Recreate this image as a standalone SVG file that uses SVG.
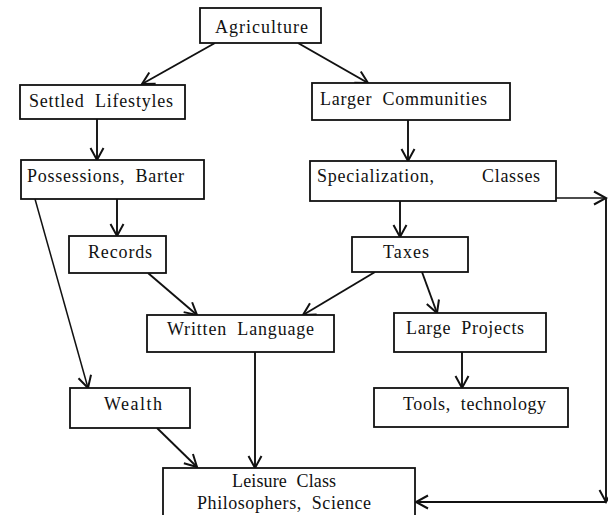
<svg xmlns="http://www.w3.org/2000/svg" width="608" height="515" viewBox="0 0 608 515">
  <style>
    .box { fill: #ffffff; stroke: #111111; stroke-width: 1.8; }
    .lbl { font-family: 'Liberation Serif', 'Times New Roman', serif; font-size: 18px; fill: #111111; letter-spacing: 0.9px; word-spacing: 5px; }
    .edge { fill: none; stroke: #111111; stroke-width: 1.9; marker-end: url(#arrow); }
  </style>
  <defs>
    <marker id="arrow" markerUnits="userSpaceOnUse" markerWidth="16" markerHeight="16" viewBox="-13 -8 16 16" refX="0" refY="0" orient="auto">
      <path d="M-12,-6.5 L0,0 L-12,6.5" fill="none" stroke="#111111" stroke-width="2" stroke-linejoin="miter"/>
    </marker>
  </defs>
  <rect width="608" height="515" fill="#ffffff"/>

  <!-- connectors -->
  <g id="connectors">
    <line class="edge" x1="215" y1="43" x2="142" y2="84"/>
    <line class="edge" x1="298" y1="43" x2="368" y2="83"/>
    <line class="edge" x1="97" y1="119" x2="97" y2="160"/>
    <line class="edge" x1="408" y1="120" x2="408" y2="161"/>
    <line class="edge" x1="117" y1="199" x2="117" y2="236"/>
    <line class="edge" x1="35" y1="199" x2="88" y2="388" style="stroke-width:1.5"/>
    <line class="edge" x1="400" y1="201" x2="400" y2="237"/>
    <line class="edge" x1="148" y1="273" x2="197" y2="315"/>
    <line class="edge" x1="375" y1="272" x2="303" y2="315"/>
    <line class="edge" x1="422" y1="272" x2="437" y2="313"/>
    <line class="edge" x1="255" y1="352" x2="255" y2="468"/>
    <line class="edge" x1="462" y1="352" x2="462" y2="388"/>
    <line class="edge" x1="157" y1="428" x2="197" y2="467"/>
    <!-- loop from Specialization round the right edge to Leisure Class -->
    <line class="edge" x1="556" y1="198" x2="606" y2="198" style="stroke-width:1.5"/>
    <line class="edge" x1="606" y1="198" x2="606" y2="502"/>
    <line class="edge" x1="606" y1="502" x2="416" y2="502"/>
  </g>

  <g id="agriculture">
    <rect class="box" x="200" y="8" width="121" height="35"/>
    <text class="lbl" x="215" y="33" textLength="94">Agriculture</text>
  </g>
  <g id="settled-lifestyles">
    <rect class="box" x="20" y="85" width="165" height="34"/>
    <text class="lbl" x="29" y="107" textLength="145">Settled Lifestyles</text>
  </g>
  <g id="larger-communities">
    <rect class="box" x="312" y="83" width="198" height="37"/>
    <text class="lbl" x="320" y="105" textLength="168">Larger Communities</text>
  </g>
  <g id="possessions-barter">
    <rect class="box" x="21" y="160" width="183" height="39"/>
    <text class="lbl" x="27" y="182" textLength="158">Possessions, Barter</text>
  </g>
  <g id="specialization-classes">
    <rect class="box" x="310" y="161" width="246" height="40"/>
    <text class="lbl" y="182"><tspan x="317" textLength="118">Specialization,</tspan><tspan x="482" textLength="59">Classes</tspan></text>
  </g>
  <g id="records">
    <rect class="box" x="69" y="236" width="97" height="37"/>
    <text class="lbl" x="88" y="258" textLength="65">Records</text>
  </g>
  <g id="taxes">
    <rect class="box" x="352" y="237" width="116" height="35"/>
    <text class="lbl" x="383" y="258" textLength="47">Taxes</text>
  </g>
  <g id="written-language">
    <rect class="box" x="147" y="315" width="187" height="37"/>
    <text class="lbl" x="167" y="335" textLength="148">Written Language</text>
  </g>
  <g id="large-projects">
    <rect class="box" x="394" y="313" width="152" height="39"/>
    <text class="lbl" x="406" y="334" textLength="119">Large Projects</text>
  </g>
  <g id="wealth">
    <rect class="box" x="70" y="388" width="120" height="40"/>
    <text class="lbl" x="104" y="410" textLength="59">Wealth</text>
  </g>
  <g id="tools-technology">
    <rect class="box" x="374" y="388" width="194" height="39"/>
    <text class="lbl" x="403" y="410" textLength="144">Tools, technology</text>
  </g>
  <g id="leisure-class">
    <rect class="box" x="163" y="468" width="252" height="60"/>
    <text class="lbl" x="232" y="487" textLength="105">Leisure Class</text>
    <text class="lbl" x="197" y="509" textLength="175">Philosophers, Science</text>
  </g>
</svg>
